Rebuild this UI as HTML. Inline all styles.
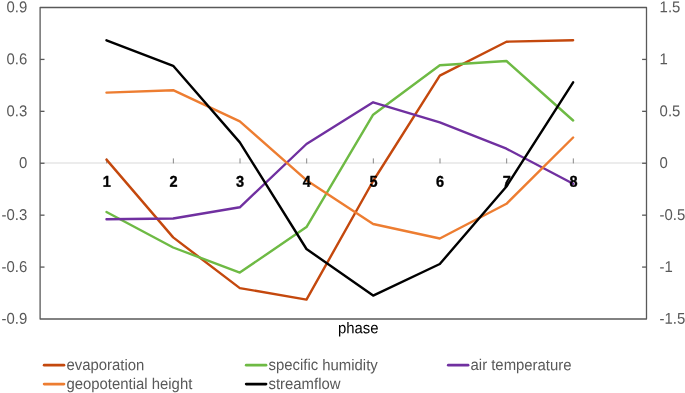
<!DOCTYPE html>
<html lang="en">
<head>
<meta charset="utf-8">
<title>phase chart</title>
<style>
html,body{margin:0;padding:0;background:#fff;}
body{width:685px;height:393px;overflow:hidden;}
svg{display:block;}
svg text{text-rendering:geometricPrecision;font-family:"Liberation Sans",Arial,sans-serif;font-size:14.9px;}
.ax{fill:#595959;}
.cat{fill:#000;font-weight:bold;font-size:14.5px;stroke:#000;stroke-width:0.35px;}
.ttl{fill:#000;}
</style>
</head>
<body>
<svg width="685" height="393" viewBox="0 0 685 393">
<rect x="0" y="0" width="685" height="393" fill="#ffffff"/>
<g stroke="#D9D9D9" stroke-width="1" fill="none">
<line x1="40.10" y1="163.00" x2="646.50" y2="163.00"/>
<line x1="106.70" y1="158.40" x2="106.70" y2="163.40" stroke="#7a7a7a" stroke-width="0.9"/>
<line x1="173.36" y1="158.40" x2="173.36" y2="163.40" stroke="#7a7a7a" stroke-width="0.9"/>
<line x1="240.02" y1="158.40" x2="240.02" y2="163.40" stroke="#7a7a7a" stroke-width="0.9"/>
<line x1="306.68" y1="158.40" x2="306.68" y2="163.40" stroke="#7a7a7a" stroke-width="0.9"/>
<line x1="373.34" y1="158.40" x2="373.34" y2="163.40" stroke="#7a7a7a" stroke-width="0.9"/>
<line x1="440.00" y1="158.40" x2="440.00" y2="163.40" stroke="#7a7a7a" stroke-width="0.9"/>
<line x1="506.66" y1="158.40" x2="506.66" y2="163.40" stroke="#7a7a7a" stroke-width="0.9"/>
<line x1="573.32" y1="158.40" x2="573.32" y2="163.40" stroke="#7a7a7a" stroke-width="0.9"/>
</g>
<polyline points="106.50,159.60 173.16,237.40 239.82,288.10 306.48,299.60 373.14,181.00 439.80,75.60 506.46,41.70 573.12,40.20" fill="none" stroke="#C4480D" stroke-width="2.4" stroke-linecap="round" stroke-linejoin="round"/>
<polyline points="106.50,212.00 173.16,247.50 239.82,272.60 306.48,227.10 373.14,114.70 439.80,65.30 506.46,61.00 573.12,120.50" fill="none" stroke="#6EBA44" stroke-width="2.4" stroke-linecap="round" stroke-linejoin="round"/>
<polyline points="106.50,219.20 173.16,218.50 239.82,207.30 306.48,144.00 373.14,102.30 439.80,122.40 506.46,148.70 573.12,183.80" fill="none" stroke="#7030A0" stroke-width="2.4" stroke-linecap="round" stroke-linejoin="round"/>
<polyline points="106.50,92.60 173.16,90.20 239.82,121.40 306.48,180.20 373.14,224.00 439.80,238.50 506.46,203.80 573.12,137.50" fill="none" stroke="#ED7D31" stroke-width="2.4" stroke-linecap="round" stroke-linejoin="round"/>
<polyline points="106.50,40.30 173.16,65.80 239.82,142.40 306.48,249.00 373.14,295.60 439.80,264.00 506.46,186.50 573.12,82.30" fill="none" stroke="#000000" stroke-width="2.4" stroke-linecap="round" stroke-linejoin="round"/>
<text class="cat" transform="translate(106.80 186.85) rotate(0.03) scale(1 1.08)" text-anchor="middle">1</text>
<text class="cat" transform="translate(173.46 186.85) rotate(0.03) scale(1 1.08)" text-anchor="middle">2</text>
<text class="cat" transform="translate(240.12 186.85) rotate(0.03) scale(1 1.08)" text-anchor="middle">3</text>
<text class="cat" transform="translate(306.78 186.85) rotate(0.03) scale(1 1.08)" text-anchor="middle">4</text>
<text class="cat" transform="translate(373.44 186.85) rotate(0.03) scale(1 1.08)" text-anchor="middle">5</text>
<text class="cat" transform="translate(440.10 186.85) rotate(0.03) scale(1 1.08)" text-anchor="middle">6</text>
<text class="cat" transform="translate(506.76 186.85) rotate(0.03) scale(1 1.08)" text-anchor="middle">7</text>
<text class="cat" transform="translate(573.42 186.85) rotate(0.03) scale(1 1.08)" text-anchor="middle">8</text>
<g stroke="#595959" stroke-width="1.3" stroke-linejoin="round" fill="none">
<rect x="40.10" y="7.50" width="606.40" height="311.50"/>
<line x1="40.10" y1="59.42" x2="44.50" y2="59.42"/>
<line x1="642.10" y1="59.42" x2="646.50" y2="59.42"/>
<line x1="40.10" y1="111.33" x2="44.50" y2="111.33"/>
<line x1="642.10" y1="111.33" x2="646.50" y2="111.33"/>
<line x1="40.10" y1="163.25" x2="44.50" y2="163.25"/>
<line x1="642.10" y1="163.25" x2="646.50" y2="163.25"/>
<line x1="40.10" y1="215.17" x2="44.50" y2="215.17"/>
<line x1="642.10" y1="215.17" x2="646.50" y2="215.17"/>
<line x1="40.10" y1="267.08" x2="44.50" y2="267.08"/>
<line x1="642.10" y1="267.08" x2="646.50" y2="267.08"/>
</g>
<text class="ax" transform="translate(27.20 12.35) rotate(0.03) scale(1 1.05)" text-anchor="end">0.9</text>
<text class="ax" transform="translate(659.60 12.35) rotate(0.03) scale(1 1.05)">1.5</text>
<text class="ax" transform="translate(27.20 64.27) rotate(0.03) scale(1 1.05)" text-anchor="end">0.6</text>
<text class="ax" transform="translate(659.60 64.27) rotate(0.03) scale(1 1.05)">1</text>
<text class="ax" transform="translate(27.20 116.18) rotate(0.03) scale(1 1.05)" text-anchor="end">0.3</text>
<text class="ax" transform="translate(659.60 116.18) rotate(0.03) scale(1 1.05)">0.5</text>
<text class="ax" transform="translate(27.20 168.10) rotate(0.03) scale(1 1.05)" text-anchor="end">0</text>
<text class="ax" transform="translate(659.60 168.10) rotate(0.03) scale(1 1.05)">0</text>
<text class="ax" transform="translate(27.20 220.02) rotate(0.03) scale(1 1.05)" text-anchor="end">-0.3</text>
<text class="ax" transform="translate(659.60 220.02) rotate(0.03) scale(1 1.05)">-0.5</text>
<text class="ax" transform="translate(27.20 271.93) rotate(0.03) scale(1 1.05)" text-anchor="end">-0.6</text>
<text class="ax" transform="translate(659.60 271.93) rotate(0.03) scale(1 1.05)">-1</text>
<text class="ax" transform="translate(27.20 323.85) rotate(0.03) scale(1 1.05)" text-anchor="end">-0.9</text>
<text class="ax" transform="translate(659.60 323.85) rotate(0.03) scale(1 1.05)">-1.5</text>
<text class="ttl" transform="translate(358.30 333.20) rotate(0.03) scale(1 1.05)" text-anchor="middle">phase</text>
<line x1="44.15" y1="365.20" x2="63.95" y2="365.20" stroke="#C4480D" stroke-width="2.75" stroke-linecap="round"/>
<text class="ax" transform="translate(66.45 370.10) rotate(0.03) scale(1 1.05)">evaporation</text>
<line x1="246.20" y1="365.20" x2="266.00" y2="365.20" stroke="#6EBA44" stroke-width="2.75" stroke-linecap="round"/>
<text class="ax" transform="translate(268.50 370.10) rotate(0.03) scale(1 1.05)">specific humidity</text>
<line x1="448.25" y1="365.20" x2="468.05" y2="365.20" stroke="#7030A0" stroke-width="2.75" stroke-linecap="round"/>
<text class="ax" transform="translate(470.55 370.10) rotate(0.03) scale(1 1.05)">air temperature</text>
<line x1="44.15" y1="384.00" x2="63.95" y2="384.00" stroke="#ED7D31" stroke-width="2.75" stroke-linecap="round"/>
<text class="ax" transform="translate(66.45 388.90) rotate(0.03) scale(1 1.05)">geopotential height</text>
<line x1="246.20" y1="384.00" x2="266.00" y2="384.00" stroke="#000000" stroke-width="2.75" stroke-linecap="round"/>
<text class="ax" transform="translate(268.50 388.90) rotate(0.03) scale(1 1.05)">streamflow</text>
</svg>
</body>
</html>
